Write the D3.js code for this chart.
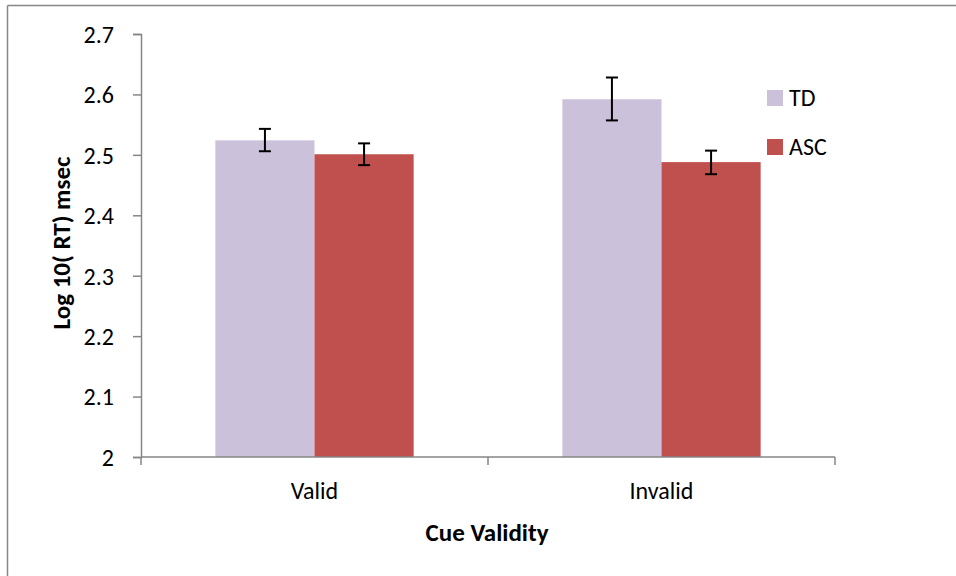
<!DOCTYPE html>
<html>
<head>
<meta charset="utf-8">
<script src="https://cdn.jsdelivr.net/npm/d3@7"></script>
<style>
  body { margin: 0; background: #fff; }
  text { font-family: Carlito, Calibri, Lato, "Open Sans", sans-serif; fill: #000; }
</style>
</head>
<body>
<div id="chart"></div>
<script>
// Data
const categories = ["Valid", "Invalid"];
const groups = ["TD", "ASC"];
const means = { TD: [2.524, 2.592], ASC: [2.501, 2.488] };
const errLow = { TD: [2.506, 2.557], ASC: [2.483, 2.468] };
const errHigh = { TD: [2.543, 2.628], ASC: [2.519, 2.507] };
const yTicks = [2, 2.1, 2.2, 2.3, 2.4, 2.5, 2.6, 2.7];
const colors = { TD: "#ccc1da", ASC: "#c0504d" };

const width = 956;
const height = 576;
const plot = { left: 141, right: 835, top: 34, bottom: 457 };

const svg = d3
  .select("#chart")
  .append("svg")
  .attr("width", width)
  .attr("height", height);

// frame (only top and left edges show)
svg.append("line")
  .attr("x1", 7.5).attr("x2", width)
  .attr("y1", 5.5).attr("y2", 5.5)
  .attr("stroke", "#868686").attr("stroke-width", 1.5);
svg.append("line")
  .attr("x1", 7.5).attr("x2", 7.5)
  .attr("y1", 5.5).attr("y2", height)
  .attr("stroke", "#868686").attr("stroke-width", 1.5);

//-----------------------------SCALES-----------------------------//
const xScale = d3.scaleBand()
  .domain(categories)
  .range([plot.left, plot.right])
  .paddingInner(0)
  .paddingOuter(0);

const xInner = d3.scaleBand()
  .domain(groups)
  .range([0, xScale.bandwidth()])
  .paddingOuter(0.75)
  .paddingInner(0);

const yScale = d3.scaleLinear().domain([2, 2.7]).range([plot.bottom, plot.top]);

//-----------------------------BARS-----------------------------//
const barData = [];
categories.forEach(function (c, i) {
  groups.forEach(function (g) {
    barData.push({ cat: c, group: g, value: means[g][i], lo: errLow[g][i], hi: errHigh[g][i] });
  });
});

svg.append("g")
  .selectAll("rect")
  .data(barData)
  .enter()
  .append("rect")
  .attr("x", function (d) { return xScale(d.cat) + xInner(d.group); })
  .attr("width", xInner.bandwidth())
  .attr("y", function (d) { return yScale(d.value); })
  .attr("height", function (d) { return yScale(2) - yScale(d.value); })
  .attr("fill", function (d) { return colors[d.group]; });

//-----------------------------AXES-----------------------------//
const yAxis = d3.axisLeft(yScale)
  .tickValues(yTicks)
  .tickSize(8)
  .tickPadding(19)
  .tickFormat(function (d) { return d3.format("")(+d.toFixed(1)); });

const gy = svg.append("g")
  .attr("transform", `translate(${plot.left},0)`)
  .call(yAxis);
gy.select(".domain").attr("stroke", "#868686").attr("stroke-width", 1.5);
gy.selectAll(".tick line").attr("stroke", "#868686").attr("stroke-width", 1.5);
gy.selectAll(".tick text")
  .style("font-size", "24px")
  .attr("dy", "0.35em");

const gx = svg.append("g")
  .attr("transform", `translate(0,${plot.bottom})`);
gx.append("line")
  .attr("x1", plot.left).attr("x2", plot.right)
  .attr("y1", 0).attr("y2", 0)
  .attr("stroke", "#868686").attr("stroke-width", 1.5);
const xTickPos = [plot.left].concat(categories.map(function (c) { return xScale(c) + xScale.bandwidth(); }));
gx.selectAll(".xt")
  .data(xTickPos)
  .enter()
  .append("line")
  .attr("x1", function (d) { return d; })
  .attr("x2", function (d) { return d; })
  .attr("y1", 0).attr("y2", 8)
  .attr("stroke", "#868686").attr("stroke-width", 1.5);
gx.selectAll(".xl")
  .data(categories)
  .enter()
  .append("text")
  .attr("x", function (d) { return xScale(d) + xScale.bandwidth() / 2; })
  .attr("y", 42)
  .attr("text-anchor", "middle")
  .style("font-size", "24px")
  .text(function (d) { return d; });

//---------------------------ERROR BARS---------------------------//
const err = svg.append("g")
  .selectAll("g")
  .data(barData)
  .enter()
  .append("g")
  .attr("stroke", "#000")
  .attr("stroke-width", 2);
const cx = function (d) { return xScale(d.cat) + xInner(d.group) + xInner.bandwidth() / 2; };
err.append("line")
  .attr("x1", cx).attr("x2", cx)
  .attr("y1", function (d) { return yScale(d.lo); })
  .attr("y2", function (d) { return yScale(d.hi); });
err.append("line")
  .attr("x1", function (d) { return cx(d) - 6; })
  .attr("x2", function (d) { return cx(d) + 6; })
  .attr("y1", function (d) { return yScale(d.lo); })
  .attr("y2", function (d) { return yScale(d.lo); });
err.append("line")
  .attr("x1", function (d) { return cx(d) - 6; })
  .attr("x2", function (d) { return cx(d) + 6; })
  .attr("y1", function (d) { return yScale(d.hi); })
  .attr("y2", function (d) { return yScale(d.hi); });

//---------------------------TITLES---------------------------//
svg.append("text")
  .attr("transform", "translate(70,243) rotate(-90)")
  .attr("text-anchor", "middle")
  .style("font-size", "25px")
  .style("font-weight", "bold")
  .text("Log 10( RT) msec");

svg.append("text")
  .attr("x", 487)
  .attr("y", 541)
  .attr("text-anchor", "middle")
  .style("font-size", "25px")
  .style("font-weight", "bold")
  .text("Cue Validity");

//---------------------------LEGEND---------------------------//
const legend = svg.append("g")
  .selectAll("g")
  .data(groups)
  .enter()
  .append("g")
  .attr("transform", function (d, i) { return `translate(767,${90 + i * 49})`; });
legend.append("rect")
  .attr("width", 16).attr("height", 16)
  .attr("fill", function (d) { return colors[d]; });
legend.append("text")
  .attr("x", 22)
  .attr("y", 16)
  .style("font-size", "24px")
  .text(function (d) { return d; });
</script>
</body>
</html>
